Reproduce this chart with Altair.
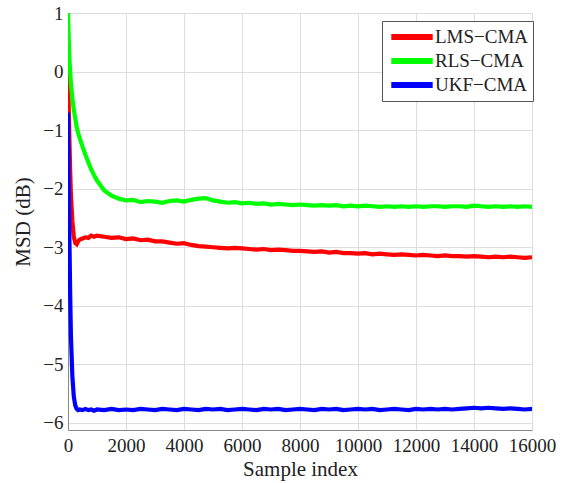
import altair as alt
import pandas as pd

sample_index = [0, 25, 50, 75, 100, 150, 200, 250, 300, 350, 400, 500, 600, 700, 800, 900,
                1000, 1250, 1500, 1750, 2000, 2250, 2500, 2750, 3000, 3250, 3500, 3750,
                4000, 4250, 4500, 4750, 5000, 5250, 5500, 5750, 6000, 6250, 6500, 6750,
                7000, 7250, 7500, 7750, 8000, 8250, 8500, 8750, 9000, 9250, 9500, 9750,
                10000, 10250, 10500, 10750, 11000, 11250, 11500, 11750, 12000, 12250, 12500, 12750,
                13000, 13250, 13500, 13750, 14000, 14250, 14500, 14750, 15000, 15250, 15500, 15750,
                16000]

lms_cma = [0.0, -0.6, -1.2, -1.7, -2.1, -2.55, -2.82, -2.93, -2.95, -2.9, -2.87, -2.85, -2.83, -2.84, -2.8, -2.82,
           -2.8, -2.82, -2.84, -2.83, -2.86, -2.85, -2.88, -2.87, -2.9, -2.9, -2.92, -2.94,
           -2.93, -2.96, -2.98, -2.99, -3.0, -3.01, -3.02, -3.01, -3.02, -3.03, -3.04, -3.03,
           -3.05, -3.04, -3.05, -3.06, -3.06, -3.07, -3.08, -3.07, -3.09, -3.08, -3.1, -3.1,
           -3.11, -3.1, -3.12, -3.11, -3.12, -3.13, -3.12, -3.13, -3.14, -3.13, -3.14, -3.15,
           -3.14, -3.15, -3.15, -3.16, -3.15, -3.16, -3.17, -3.16, -3.17, -3.16, -3.17, -3.18,
           -3.17]

rls_cma = [1.0, 0.55, 0.2, 0.0, -0.2, -0.45, -0.65, -0.8, -0.95, -1.05, -1.13, -1.28, -1.42, -1.55, -1.67, -1.77,
           -1.86, -2.03, -2.12, -2.17, -2.2, -2.19, -2.23, -2.21, -2.22, -2.24, -2.21, -2.2,
           -2.22, -2.19, -2.17, -2.16, -2.2, -2.22, -2.24, -2.23, -2.25, -2.24, -2.26, -2.25,
           -2.27, -2.26, -2.27, -2.28, -2.27, -2.28, -2.29, -2.28, -2.29, -2.28, -2.3, -2.29,
           -2.3, -2.29, -2.3, -2.31, -2.3, -2.31, -2.3, -2.31, -2.3, -2.31, -2.3, -2.3,
           -2.31, -2.3, -2.3, -2.31, -2.29, -2.3, -2.31, -2.3, -2.31, -2.3, -2.31, -2.3,
           -2.31]

ukf_cma = [-0.7, -1.8, -2.9, -3.8, -4.5, -5.2, -5.55, -5.7, -5.76, -5.78, -5.77, -5.78, -5.76, -5.78, -5.77, -5.79,
           -5.77, -5.78, -5.76, -5.78, -5.77, -5.78, -5.76, -5.77, -5.78, -5.76, -5.77, -5.78,
           -5.76, -5.77, -5.78, -5.76, -5.77, -5.76, -5.78, -5.77, -5.76, -5.77, -5.78, -5.76,
           -5.77, -5.76, -5.78, -5.77, -5.76, -5.77, -5.78, -5.76, -5.77, -5.76, -5.78, -5.77,
           -5.76, -5.77, -5.76, -5.78, -5.77, -5.76, -5.77, -5.78, -5.76, -5.77, -5.76, -5.77,
           -5.76, -5.77, -5.76, -5.75, -5.74, -5.75, -5.74, -5.75, -5.76, -5.75, -5.76, -5.77,
           -5.76]

series_names = ["LMS\u2212CMA", "RLS\u2212CMA", "UKF\u2212CMA"]
series_colors = ["#ff0000", "#00ff00", "#0000ff"]
x_ticks = [0, 2000, 4000, 6000, 8000, 10000, 12000, 14000, 16000]
y_ticks = [-6, -5, -4, -3, -2, -1, 0, 1]

rows = []
for name, vals in zip(series_names, [lms_cma, rls_cma, ukf_cma]):
    for s, v in zip(sample_index, vals):
        rows.append({"Sample index": s, "MSD": v, "Algorithm": name})
df = pd.DataFrame(rows)

FONT = "Liberation Serif"
INK = "#222222"

chart = alt.Chart(df).mark_line(strokeWidth=4.2, clip=True).encode(
    x=alt.X("Sample index:Q",
            scale=alt.Scale(domain=[0, 16000], nice=False, zero=False),
            axis=alt.Axis(values=x_ticks, title="Sample index", format="d",
                          tickSize=0, labelPadding=6, titlePadding=3,
                          labelOverlap=False, labelFlush=False,
                          labelFont=FONT, titleFont=FONT, labelColor=INK, titleColor=INK,
                          labelFontSize=19, titleFontSize=21, titleFontWeight="normal")),
    y=alt.Y("MSD:Q",
            scale=alt.Scale(domain=[-6.12, 1], nice=False, zero=False),
            axis=alt.Axis(values=y_ticks, title="MSD (dB)",
                          tickSize=0, labelPadding=5, titlePadding=9,
                          labelOverlap=False, labelFlush=False,
                          labelFont=FONT, titleFont=FONT, labelColor=INK, titleColor=INK,
                          labelFontSize=19, titleFontSize=21, titleFontWeight="normal")),
    color=alt.Color("Algorithm:N",
                    scale=alt.Scale(domain=series_names, range=series_colors),
                    legend=alt.Legend(title=None, orient="none", legendX=314, legendY=8,
                                      symbolType="M-2.3,0H2.3", symbolSize=324,
                                      symbolStrokeWidth=6, symbolOffset=14,
                                      labelFontSize=19, labelFont=FONT, labelColor=INK,
                                      labelOffset=11,
                                      strokeColor="#555555", fillColor="white",
                                      padding=4, rowPadding=0)),
    order=alt.Order("Sample index:Q"),
).properties(
    width=464, height=417,
    padding={"left": 68, "top": 13, "right": 34, "bottom": 53},
    autosize=alt.AutoSizeParams(type="none"),
).configure_view(
    stroke=INK, strokeWidth=1.2
).configure_axis(
    grid=True, gridColor="#d0d0d0", gridWidth=1, domain=False
).configure(background="white")

chart.save("out.html", embed_options={"renderer": "svg", "actions": False})
